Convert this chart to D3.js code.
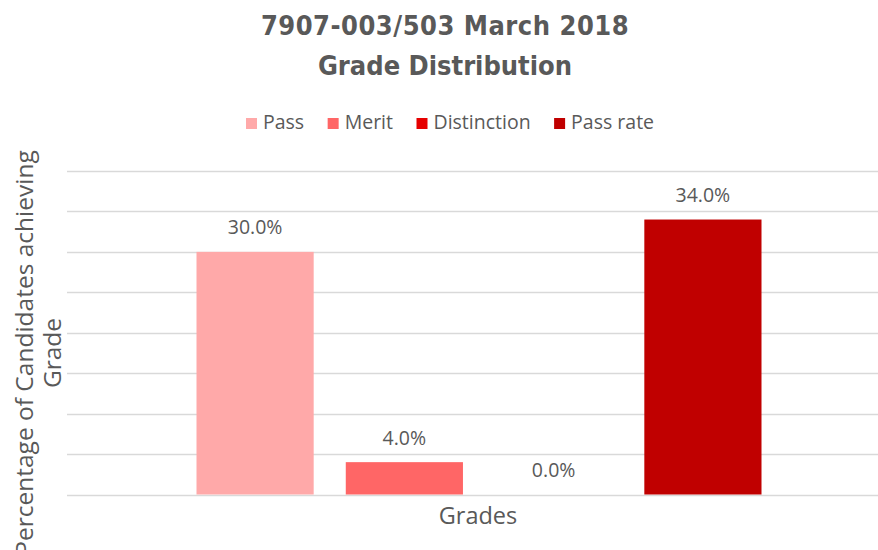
<!DOCTYPE html>
<html>
<head>
<meta charset="utf-8">
<script src="https://cdn.jsdelivr.net/npm/d3@7"></script>
<style>
  body { margin: 0; background: #fff; }
  text { font-family: "Open Sans", sans-serif; fill: #595959; }
</style>
</head>
<body>
<svg id="chart"></svg>
<script>
// Chart data
const series = ["Pass", "Merit", "Distinction", "Pass rate"];
const values = [30.0, 4.0, 0.0, 34.0];
const colors = ["#FFA9A9", "#FF6666", "#E60000", "#C00000"];
const yTicks = [0, 5, 10, 15, 20, 25, 30, 35, 40];
const category = "Grades";

const W = 878, H = 550;

const svg = d3.select("#chart")
    .attr("width", W)
    .attr("height", H);

// Scales
const yScale = d3.scaleLinear().domain([0, 40]).range([494.5, 171]);
const xScale = d3.scaleBand()
    .domain(series)
    .range([196.5, 761.5])
    .paddingInner(0.215)
    .paddingOuter(0);

// Gridlines
svg.append("g")
    .selectAll("line")
    .data(yTicks)
    .enter().append("line")
    .attr("x1", 67)
    .attr("x2", 878)
    .attr("y1", d => Math.round(yScale(d)) + 0.5)
    .attr("y2", d => Math.round(yScale(d)) + 0.5)
    .attr("stroke", "#D9D9D9")
    .attr("stroke-width", 1.5);

// Bars
svg.append("g")
    .selectAll("rect")
    .data(values)
    .enter().append("rect")
    .attr("x", (d, i) => xScale(series[i]))
    .attr("y", d => yScale(d))
    .attr("width", xScale.bandwidth())
    .attr("height", d => yScale(0) - yScale(d))
    .attr("fill", (d, i) => colors[i]);

// Data labels
svg.append("g")
    .selectAll("text")
    .data(values)
    .enter().append("text")
    .attr("x", (d, i) => xScale(series[i]) + xScale.bandwidth() / 2)
    .attr("y", d => yScale(d) - 17.5)
    .attr("text-anchor", "middle")
    .style("font-size", "19.5px")
    .text(d => d.toFixed(1) + "%");

// Title
const title = svg.append("text")
    .attr("text-anchor", "middle")
    .style("font-family", "'DejaVu Sans Condensed', 'DejaVu Sans', sans-serif")
    .style("font-stretch", "condensed")
    .style("font-weight", "bold")
    .style("font-size", "27px");
title.append("tspan").attr("x", 445).attr("y", 35).style("letter-spacing", "0.5px").text("7907-003/503 March 2018");
title.append("tspan").attr("x", 445).attr("y", 75).text("Grade Distribution");

// Legend
const legend = svg.append("g");
let lx = 246;
series.forEach((s, i) => {
    legend.append("rect")
        .attr("x", lx)
        .attr("y", 118)
        .attr("width", 11)
        .attr("height", 11)
        .attr("fill", colors[i]);
    const t = legend.append("text")
        .attr("x", lx + 17)
        .attr("y", 129)
        .style("font-size", "19.5px")
        .text(s);
    lx += 17 + t.node().getComputedTextLength() + 23.5;
});

// X axis title
svg.append("text")
    .attr("x", 478)
    .attr("y", 523.5)
    .attr("text-anchor", "middle")
    .style("font-size", "23.5px")
    .text(category);

// Y axis title (two lines)
const yTitle = svg.append("text")
    .attr("transform", "translate(0,353) rotate(-90)")
    .attr("text-anchor", "middle")
    .style("font-size", "24.5px");
yTitle.append("tspan").attr("x", 0).attr("y", 33).text("Percentage of Candidates achieving");
yTitle.append("tspan").attr("x", 0).attr("y", 61).text("Grade");
</script>
</body>
</html>
